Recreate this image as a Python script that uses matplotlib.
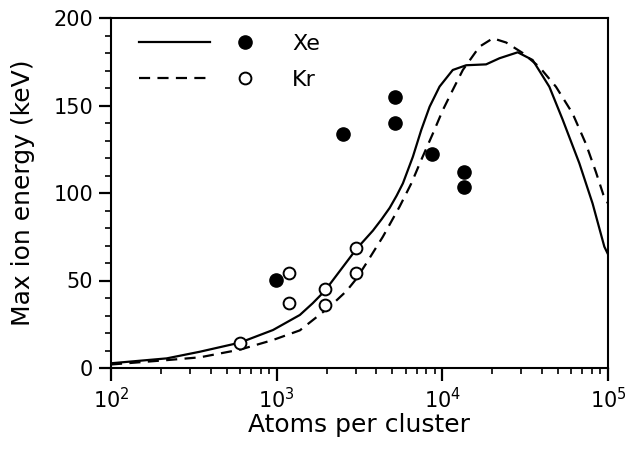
import matplotlib
matplotlib.use('Agg')
import matplotlib.pyplot as plt
from matplotlib.legend_handler import HandlerTuple
from matplotlib.ticker import LogLocator, LogFormatterMathtext, MultipleLocator
from matplotlib.transforms import ScaledTranslation

# model curves (atoms per cluster, max ion energy in keV)
xe_curve_n = [100, 217, 344, 600, 950, 1380, 1650, 1950, 3030, 3810, 4300,
              4810, 5300, 5780, 6640, 7460, 8380, 9620, 11560, 13930, 18370,
              22130, 28510, 35080, 44260, 53210, 67140, 80720, 95060, 100000]
xe_curve_e = [2.7, 5.5, 9.3, 14.5, 21.7, 30.3, 37, 44, 68, 78.5, 85,
              91.5, 98.5, 105.5, 120.7, 136, 149.3, 160.8, 170.3, 173, 173.5,
              177, 180.4, 176, 160.7, 142, 117, 94, 69.3, 65]

kr_curve_n = [100, 217, 344, 600, 950, 1380, 2090, 2640, 3030, 3475, 4375,
              5520, 6500, 7460, 8770, 10070, 11560, 13300, 16750, 20180,
              24270, 30550, 38550, 48530, 61090, 73620, 84530, 93750, 100000]
kr_curve_e = [2.0, 4.5, 6.1, 10.5, 16, 21.5, 35, 44, 51, 59.8, 75,
              92.2, 105.5, 118.9, 134, 147.4, 158.9, 170.3, 183.6, 188.4,
              186, 180, 172, 160.7, 145.5, 128, 112, 99, 94]

# measured points
xe_n = [990, 2510, 5150, 5150, 8690, 13600, 13600]
xe_e = [50.3, 133.5, 154.7, 140.2, 122.3, 112.2, 103.3]
kr_n = [600, 1183, 1183, 1960, 1960, 3030, 3030]
kr_e = [14.5, 54.1, 37.3, 45.1, 36.0, 68.4, 54.5]

DPI = 100
WIDTH = 625.0
HEIGHT = 449.0

plt.rcParams['font.family'] = ['DejaVu Sans']
plt.rcParams['mathtext.default'] = 'regular'

fig = plt.figure(figsize=(WIDTH / DPI, HEIGHT / DPI), dpi=DPI)
ax = fig.add_axes([111 / WIDTH, 1 - 368 / HEIGHT, 497 / WIDTH, 350 / HEIGHT])

line_xe, = ax.plot(xe_curve_n, xe_curve_e, color='black', lw=1.6, zorder=2)
line_kr, = ax.plot(kr_curve_n, kr_curve_e, color='black', lw=1.6,
                   dashes=(5, 3.3), zorder=2)
dot_xe, = ax.plot(xe_n, xe_e, 'o', color='black', ms=9.5, ls='none', zorder=3)
dot_kr, = ax.plot(kr_n, kr_e, 'o', mfc='white', mec='black', mew=1.4,
                  ms=8.5, ls='none', zorder=3)

ax.set_xscale('log')
ax.set_xlim(1e2, 1e5)
ax.set_ylim(0, 200)
ax.xaxis.set_major_locator(LogLocator(base=10, numticks=10))
ax.xaxis.set_minor_locator(LogLocator(base=10, subs=range(2, 10), numticks=20))
ax.xaxis.set_major_formatter(LogFormatterMathtext())
ax.yaxis.set_major_locator(MultipleLocator(50))
ax.yaxis.set_minor_locator(MultipleLocator(10))

for sp in ax.spines.values():
    sp.set_linewidth(1.5)
ax.tick_params(which='major', direction='out', length=9, width=1.6,
               labelsize=15, pad=4)
ax.tick_params(which='minor', direction='out', length=4.5, width=1.2)
ax.tick_params(axis='x', which='major', labelsize=15, pad=5)

ax.set_xlabel('Atoms per cluster', fontsize=18, labelpad=0)
ax.set_ylabel('Max ion energy (keV)', fontsize=18, labelpad=13)

# nudge the last x tick label so it stays inside the figure
fig.canvas.draw()
last = ax.get_xticklabels()[-1]
last.set_transform(last.get_transform()
                   + ScaledTranslation(-4 / DPI, 0, fig.dpi_scale_trans))

leg = ax.legend([(line_xe, dot_xe), (line_kr, dot_kr)], ['Xe', 'Kr'],
                handler_map={tuple: HandlerTuple(ndivide=None, pad=0)},
                loc='upper left', bbox_to_anchor=(0.056, 0.955),
                frameon=False, fontsize=16, handlelength=6.4,
                handletextpad=0.5, borderpad=0, borderaxespad=0,
                labelspacing=0.72, numpoints=1)

plt.savefig('out.png', dpi=DPI)
